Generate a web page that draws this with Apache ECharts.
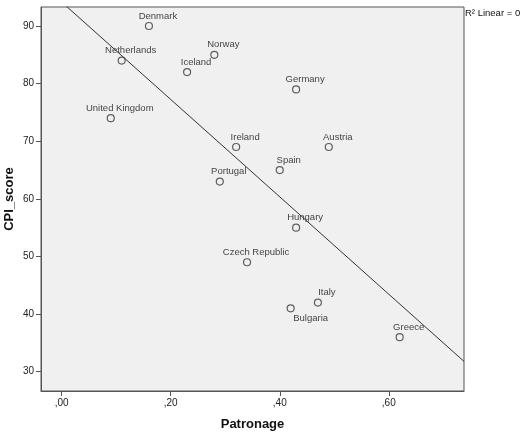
<!DOCTYPE html>
<html>
<head>
<meta charset="utf-8">
<script src="https://cdn.jsdelivr.net/npm/echarts@6/dist/echarts.min.js"></script>
<style>
html,body{margin:0;padding:0;background:#fff;}
#c{width:520px;height:438px;}
</style>
</head>
<body>
<div id="c"></div>
<script>
var countries = ["Denmark","Netherlands","Iceland","Norway","United Kingdom","Ireland","Portugal","Germany","Austria","Spain","Hungary","Czech Republic","Italy","Bulgaria","Greece"];
var patronage = [0.16,0.11,0.23,0.28,0.09,0.32,0.29,0.43,0.49,0.40,0.43,0.34,0.47,0.42,0.62];
var cpiScore = [90,84,82,85,74,69,63,79,69,65,55,49,42,41,36];
var xTicks = [0,0.2,0.4,0.6];
var yTicks = [30,40,50,60,70,80,90];

var X_MIN = -0.038, X_MAX = 0.738, Y_MIN = 26.65, Y_MAX = 93.3;

// least-squares fit line
var n = patronage.length, mx = 0, my = 0;
for (var i = 0; i < n; i++) { mx += patronage[i]; my += cpiScore[i]; }
mx /= n; my /= n;
var sxy = 0, sxx = 0;
for (var i = 0; i < n; i++) { sxy += (patronage[i]-mx)*(cpiScore[i]-my); sxx += (patronage[i]-mx)*(patronage[i]-mx); }
var slope = sxy / sxx, icpt = my - slope*mx;
var fitLine = [[X_MIN, icpt + slope*X_MIN], [X_MAX, icpt + slope*X_MAX]];

var pts = countries.map(function(c, i){
  var item = { name: c, value: [patronage[i], cpiScore[i]] };
  if (c === "Bulgaria") item.label = { position: 'bottom', offset: [20, 0] };
  return item;
});

var chart = echarts.init(document.getElementById('c'), null, {renderer:'canvas'});
var axisCol = '#555';
chart.setOption({
  animation: false,
  textStyle: { fontFamily: 'Liberation Sans, Arial, sans-serif' },
  grid: { left: 41, top: 7, right: 56, bottom: 47, containLabel: false, outerBoundsMode: 'none',
    show: true, backgroundColor: '#f0f0f0', borderColor: axisCol, borderWidth: 1 },
  xAxis: {
    type: 'value', min: X_MIN, max: X_MAX,
    name: 'Patronage', nameLocation: 'middle', nameGap: 27, nameMoveOverlap: false,
    nameTextStyle: { fontSize: 13, fontWeight: 'bold', color: '#111', fontFamily: 'Liberation Sans' },
    splitLine: { show: false },
    axisLine: { show: true, onZero: false, lineStyle: { color: axisCol } },
    axisTick: { show: true, inside: false, length: 5, customValues: xTicks, lineStyle: { color: axisCol } },
    axisLabel: { customValues: xTicks, fontSize: 10, color: '#222', margin: 7,
      formatter: function(v){ return v.toFixed(2).replace(/^0\./, ','); } }
  },
  yAxis: {
    type: 'value', min: Y_MIN, max: Y_MAX,
    name: 'CPI_score', nameLocation: 'middle', nameGap: 25, nameRotate: 90, nameMoveOverlap: false,
    nameTextStyle: { fontSize: 13, fontWeight: 'bold', color: '#111', fontFamily: 'Liberation Sans' },
    splitLine: { show: false },
    axisLine: { show: true, onZero: false, lineStyle: { color: axisCol } },
    axisTick: { show: true, inside: false, length: 5, customValues: yTicks, lineStyle: { color: axisCol } },
    axisLabel: { customValues: yTicks, fontSize: 10, color: '#222', margin: 7,
      formatter: function(v){ return String(Math.round(v)); } }
  },
  series: [
    {
      type: 'line', data: fitLine, symbol: 'none', silent: true, clip: true,
      lineStyle: { color: '#333', width: 1 }
    },
    {
      type: 'scatter', data: pts, symbol: 'circle', symbolSize: 7,
      itemStyle: { color: 'rgba(0,0,0,0)', borderColor: '#3a3a3a', borderWidth: 1.2 },
      label: { show: true, position: 'top', distance: 1, offset: [9, 0],
        formatter: '{b}', fontSize: 9.5, color: '#111', fontFamily: 'Liberation Sans' }
    }
  ],
  graphic: [
    { type: 'text', left: 465, top: 8,
      style: { text: 'R\u00B2 Linear = 0', fontSize: 9.5, fill: '#111', fontFamily: 'Liberation Sans' } }
  ]
});
</script>
</body>
</html>
